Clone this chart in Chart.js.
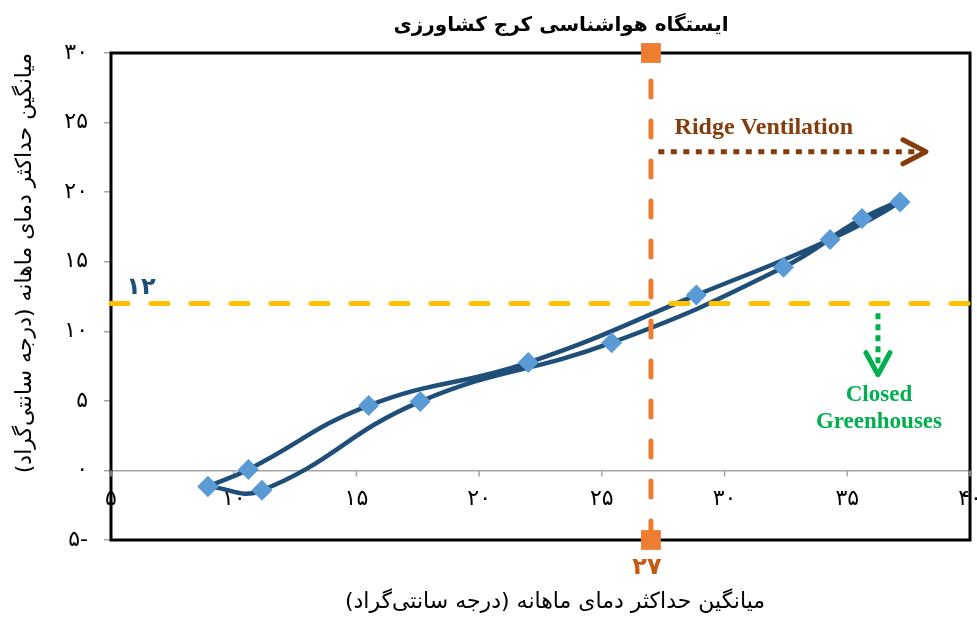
<!DOCTYPE html>
<html>
<head>
<meta charset="utf-8">
<script src="https://cdn.jsdelivr.net/npm/chart.js@4.4.0/dist/chart.umd.min.js"></script>
<style>
  html, body { margin: 0; padding: 0; background: #fff; }
  #wrap { width: 977px; height: 617px; }
</style>
</head>
<body>
<div id="wrap"><canvas id="climateChart" width="977" height="617" dir="rtl"></canvas></div>
<script>
// monthly values, Jan..Dec and back to Jan so the loop closes
const months = ['Jan', 'Feb', 'Mar', 'Apr', 'May', 'Jun', 'Jul', 'Aug', 'Sep', 'Oct', 'Nov', 'Dec', 'Jan'];
const tempX = [8.95, 10.6, 15.5, 22.0, 28.85, 34.3, 37.15, 35.6, 32.4, 25.4, 17.6, 11.15, 8.95];
const tempY = [-1.15, 0.07, 4.66, 7.75, 12.6, 16.6, 19.3, 18.1, 14.6, 9.18, 4.95, -1.43, -1.15];

const xTicks = [5, 10, 15, 20, 25, 30, 35, 40];
const yTicks = [-5, 0, 5, 10, 15, 20, 25, 30];

// thresholds
const ventLimit = 27;
const closedLimit = 12;

const chartTitle = 'ایستگاه هواشناسی کرج کشاورزی';
const axisTitle = 'میانگین حداکثر دمای ماهانه (درجه سانتی‌گراد)';

const faDigits = '۰۱۲۳۴۵۶۷۸۹';
function toFa(n) {
    return String(n).replace(/\d/g, d => faDigits[d]);
}

const loopData = tempX.map((v, i) => ({ x: v, y: tempY[i] }));

function drawChevron(ctx, pts) {
    ctx.beginPath();
    ctx.moveTo(pts[0][0], pts[0][1]);
    ctx.lineTo(pts[1][0], pts[1][1]);
    ctx.lineTo(pts[2][0], pts[2][1]);
    ctx.stroke();
}

const decorPlugin = {
    id: 'decor',
    beforeDatasetsDraw(chart) {
        const { ctx, chartArea: a, scales: { x, y } } = chart;
        ctx.save();
        // plot frame
        ctx.strokeStyle = '#000';
        ctx.lineWidth = 3;
        ctx.strokeRect(a.left, a.top, a.width, a.height);

        // x axis crosses at zero
        const y0 = y.getPixelForValue(0);
        ctx.strokeStyle = '#A6A6A6';
        ctx.lineWidth = 1.5;
        xTicks.forEach(v => {
            const px = x.getPixelForValue(v);
            ctx.beginPath();
            ctx.moveTo(px, y0);
            ctx.lineTo(px, y0 + 6);
            ctx.stroke();
        });
        ctx.fillStyle = '#000';
        ctx.font = '22px "DejaVu Sans"';
        ctx.textAlign = 'center';
        ctx.textBaseline = 'middle';
        xTicks.forEach(v => {
            ctx.fillText(toFa(v), x.getPixelForValue(v), y0 + 29);
        });
        ctx.restore();
    },
    afterDatasetsDraw(chart) {
        const { ctx, chartArea: a, scales: { x, y } } = chart;
        ctx.save();
        ctx.direction = 'rtl';
        ctx.textAlign = 'center';
        ctx.textBaseline = 'middle';

        // titles
        ctx.fillStyle = '#000';
        ctx.font = 'bold 20px "DejaVu Sans"';
        ctx.fillText(chartTitle, 561, 26);
        ctx.font = '22px "DejaVu Sans"';
        ctx.fillText(axisTitle, 555, 602);

        // threshold labels
        ctx.font = 'bold 24px "DejaVu Sans"';
        ctx.fillStyle = '#1F4E79';
        ctx.fillText(toFa(closedLimit), a.left + 30, y.getPixelForValue(closedLimit) - 16);
        ctx.fillStyle = '#C55A11';
        ctx.fillText(toFa(ventLimit), x.getPixelForValue(ventLimit) - 4, a.bottom + 28);

        ctx.direction = 'ltr';
        ctx.lineCap = 'butt';
        ctx.lineJoin = 'round';

        // ridge ventilation arrow
        const rx0 = x.getPixelForValue(27.3), rx1 = x.getPixelForValue(38.0), ry = y.getPixelForValue(22.9);
        ctx.strokeStyle = '#843C0C';
        ctx.lineWidth = 5;
        ctx.setLineDash([6, 6.5]);
        ctx.beginPath();
        ctx.moveTo(rx0, ry);
        ctx.lineTo(rx1, ry);
        ctx.stroke();
        ctx.setLineDash([]);
        ctx.lineCap = 'round';
        drawChevron(ctx, [[rx1 - 18, ry - 12], [rx1 + 5, ry], [rx1 - 18, ry + 12]]);
        ctx.fillStyle = '#843C0C';
        ctx.font = 'bold 24px "Liberation Serif"';
        ctx.fillText('Ridge Ventilation', x.getPixelForValue(31.6), y.getPixelForValue(24.6));

        // closed greenhouses arrow
        const gx = x.getPixelForValue(36.25), gy0 = y.getPixelForValue(11.3), gy1 = y.getPixelForValue(7.6);
        ctx.strokeStyle = '#00B050';
        ctx.lineCap = 'butt';
        ctx.setLineDash([6, 5]);
        ctx.beginPath();
        ctx.moveTo(gx, gy0);
        ctx.lineTo(gx, gy1);
        ctx.stroke();
        ctx.setLineDash([]);
        ctx.lineCap = 'round';
        drawChevron(ctx, [[gx - 12, gy1 - 12], [gx, gy1 + 10], [gx + 12, gy1 - 12]]);
        ctx.fillStyle = '#00B050';
        ctx.font = 'bold 23px "Liberation Serif"';
        ctx.fillText('Closed', gx + 1, y.getPixelForValue(5.45));
        ctx.fillText('Greenhouses', gx + 1, y.getPixelForValue(3.45));
        ctx.restore();
    }
};

const ctx = document.getElementById('climateChart').getContext('2d');
const climateChart = new Chart(ctx, {
    type: 'scatter',
    data: {
        labels: months,
        datasets: [
            {
                label: 'ventilation threshold',
                data: [{ x: ventLimit, y: yTicks[yTicks.length - 1] }, { x: ventLimit, y: yTicks[0] }],
                showLine: true,
                borderColor: '#ED7D31',
                borderWidth: 5,
                borderDash: [16, 24],
                borderDashOffset: 12,
                borderCapStyle: 'round',
                pointStyle: 'rect',
                pointRadius: 14,
                pointBackgroundColor: '#ED7D31',
                pointBorderWidth: 0,
                clip: false,
                order: 0
            },
            {
                label: 'closed threshold',
                data: [{ x: xTicks[0], y: closedLimit }, { x: xTicks[xTicks.length - 1], y: closedLimit }],
                showLine: true,
                borderColor: '#FFC000',
                borderWidth: 5,
                borderDash: [17, 23],
                borderCapStyle: 'round',
                pointRadius: 0,
                clip: false,
                order: 0
            },
            {
                label: 'monthly',
                data: loopData,
                showLine: true,
                borderColor: '#1F4E79',
                borderWidth: 4.5,
                tension: 0.45,
                pointStyle: 'rectRot',
                pointRadius: 10.5,
                pointBackgroundColor: '#5B9BD5',
                pointBorderWidth: 0,
                order: 1
            }
        ]
    },
    options: {
        responsive: false,
        animation: false,
        layout: {
            autoPadding: false,
            padding: { top: 53, right: 7, bottom: 77, left: 0 }
        },
        plugins: {
            legend: { display: false },
            tooltip: { enabled: false }
        },
        scales: {
            x: {
                type: 'linear',
                min: xTicks[0],
                max: xTicks[xTicks.length - 1],
                display: false
            },
            y: {
                type: 'linear',
                min: yTicks[0],
                max: yTicks[yTicks.length - 1],
                afterBuildTicks: scale => { scale.ticks = yTicks.map(v => ({ value: v })); },
                afterFit: scale => { scale.width = 111; },
                ticks: {
                    callback: v => toFa(v),
                    color: '#000',
                    font: { family: 'DejaVu Sans', size: 22 },
                    padding: 16
                },
                grid: {
                    drawOnChartArea: true,
                    color: c => (c.tick && c.tick.value === 0) ? '#A6A6A6' : 'rgba(0,0,0,0)',
                    tickColor: '#A6A6A6',
                    tickLength: 7,
                    lineWidth: 1.5
                },
                border: { display: false },
                title: {
                    display: true,
                    text: axisTitle,
                    color: '#000',
                    align: 'end',
                    font: { family: 'DejaVu Sans', size: 22 },
                    padding: { top: 12, bottom: 0 }
                }
            }
        }
    },
    plugins: [decorPlugin]
});
</script>
</body>
</html>
